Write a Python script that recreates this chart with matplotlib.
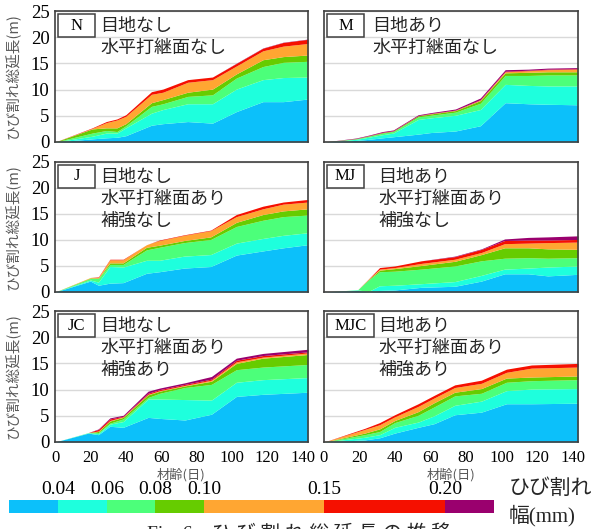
import matplotlib
matplotlib.use("Agg")
import matplotlib.pyplot as plt
from matplotlib.patches import Rectangle
import numpy as np

# crack-width classes (mm) and their colours
width_labels = ["0.04", "0.06", "0.08", "0.10", "0.15", "0.20"]
layer_colors = ["#0cc0fa", "#1effdd", "#4cff7a", "#66cc00", "#ffa632", "#f51000", "#9a006e"]

# measurement ages (days) and cumulative crack length (m) per width class
N_days = [0, 21, 29, 35, 40, 54.5, 61, 75, 89, 102.5, 117.5, 129, 143]
N_cum = [
    [0, 0.6, 0.8, 0.9, 1.2, 3.2, 3.5, 3.9, 3.6, 5.8, 7.7, 7.7, 8.2],
    [0, 1.1, 1.7, 1.7, 2.7, 5.5, 6.2, 7.3, 7.3, 10.1, 11.9, 12.3, 12.4],
    [0, 1.7, 2.2, 2.0, 3.1, 6.8, 7.3, 8.7, 9.0, 12.2, 14.4, 15.2, 15.4],
    [0, 2.5, 2.7, 2.7, 3.5, 7.5, 8.1, 9.5, 10.1, 13.0, 15.7, 16.3, 16.6],
    [0, 2.6, 3.7, 4.2, 4.9, 9.1, 9.5, 11.4, 11.9, 14.5, 17.4, 18.3, 18.8],
    [0, 2.7, 3.9, 4.4, 5.2, 9.6, 10.1, 11.9, 12.4, 15.0, 17.9, 19.0, 19.6],
    [0, 2.7, 3.9, 4.4, 5.2, 9.6, 10.1, 11.9, 12.4, 15.05, 17.95, 19.05, 19.65],
]

M_days = [0, 18, 25, 33, 39, 53, 60, 74, 88, 102, 115, 126, 143]
M_cum = [
    [0, 0.3, 0.5, 0.8, 1.0, 1.5, 1.8, 2.1, 3.1, 7.5, 7.3, 7.2, 7.1],
    [0, 0.5, 0.9, 1.4, 1.7, 4.3, 4.6, 5.1, 6.2, 11.0, 10.8, 10.7, 10.7],
    [0, 0.6, 1.1, 1.7, 2.0, 4.8, 5.1, 5.7, 7.4, 12.7, 12.7, 12.8, 12.8],
    [0, 0.65, 1.15, 1.8, 2.1, 5.0, 5.35, 6.0, 7.9, 13.2, 13.3, 13.4, 13.4],
    [0, 0.65, 1.15, 1.8, 2.1, 5.0, 5.4, 6.05, 8.0, 13.4, 13.6, 13.8, 13.9],
    [0, 0.67, 1.2, 1.85, 2.15, 5.05, 5.45, 6.1, 8.1, 13.5, 13.7, 13.9, 14.0],
    [0, 0.76, 1.3, 2.0, 2.3, 5.2, 5.6, 6.3, 8.4, 13.8, 13.9, 14.1, 14.2],
]

J_days = [0, 20, 24.5, 31, 38.5, 51.7, 59, 73, 88, 102.5, 117.5, 129, 143]
J_cum = [
    [0, 2.1, 1.3, 1.7, 1.8, 3.6, 3.9, 4.6, 4.9, 7.1, 7.9, 8.5, 9.1],
    [0, 2.3, 1.9, 4.9, 4.8, 6.1, 6.1, 6.9, 7.2, 9.4, 10.3, 10.9, 11.4],
    [0, 2.6, 2.6, 5.3, 5.3, 8.1, 8.6, 9.5, 10.1, 12.6, 13.8, 14.5, 14.8],
    [0, 2.7, 2.7, 5.6, 5.6, 8.6, 9.0, 9.9, 10.6, 13.4, 14.9, 15.6, 16.0],
    [0, 2.8, 2.8, 6.2, 6.2, 9.1, 9.9, 10.9, 11.8, 14.5, 16.0, 16.9, 17.3],
    [0, 2.8, 2.9, 6.3, 6.3, 9.1, 10.0, 11.0, 11.9, 14.9, 16.5, 17.3, 17.8],
    [0, 2.8, 2.9, 6.3, 6.3, 9.1, 10.0, 11.0, 11.9, 14.9, 16.5, 17.3, 17.8],
]

MJ_days = [0, 19, 25, 31.3, 39.8, 54.8, 73.6, 88.6, 101.7, 115, 126, 143]
MJ_cum = [
    [0, 0.3, 0.0, 0.3, 0.4, 0.9, 1.1, 2.1, 3.5, 3.5, 3.1, 3.4],
    [0, 0.4, 0.1, 1.2, 1.3, 1.6, 2.0, 3.2, 4.4, 4.6, 4.8, 5.0],
    [0, 0.45, 2.3, 3.9, 4.0, 4.4, 5.0, 6.0, 6.5, 6.6, 6.5, 6.6],
    [0, 0.45, 2.4, 4.2, 4.5, 5.1, 5.9, 7.2, 8.5, 8.5, 8.3, 8.2],
    [0, 0.45, 2.45, 4.4, 4.7, 5.5, 6.3, 7.6, 9.3, 9.4, 9.5, 9.6],
    [0, 0.45, 2.5, 4.7, 5.0, 6.0, 6.8, 8.2, 9.9, 10.0, 10.0, 10.1],
    [0, 0.45, 2.5, 4.7, 5.0, 6.0, 6.9, 8.3, 10.2, 10.5, 10.6, 10.8],
]

JC_days = [0, 18.8, 24.5, 31, 38.5, 52.6, 59.2, 73.4, 88.4, 102.5, 117.5, 143]
JC_cum = [
    [0, 1.7, 1.4, 3.0, 2.8, 4.7, 4.5, 4.2, 5.3, 8.7, 9.1, 9.5],
    [0, 1.75, 1.6, 3.4, 3.9, 8.2, 8.2, 8.1, 8.0, 11.4, 11.9, 12.3],
    [0, 1.8, 1.8, 3.6, 4.4, 8.5, 9.3, 10.4, 11.0, 13.8, 14.3, 14.8],
    [0, 1.8, 2.0, 4.0, 4.7, 9.0, 9.7, 10.7, 11.6, 15.0, 16.0, 16.7],
    [0, 1.8, 2.1, 4.1, 4.8, 9.1, 9.8, 10.8, 11.8, 15.3, 16.2, 17.0],
    [0, 1.8, 2.4, 4.4, 4.9, 9.3, 10.0, 11.0, 12.0, 15.6, 16.5, 17.2],
    [0, 1.8, 2.5, 4.6, 5.1, 9.7, 10.3, 11.3, 12.5, 16.0, 16.9, 17.7],
]

MJC_days = [0, 22.9, 31.3, 39.8, 53, 62, 73.6, 88.6, 102.7, 116.8, 143]
MJC_cum = [
    [0, 0.4, 0.8, 1.7, 2.8, 3.5, 5.2, 5.7, 7.3, 7.3, 7.4],
    [0, 0.9, 1.4, 2.8, 3.8, 5.0, 7.0, 7.8, 9.8, 10.1, 10.2],
    [0, 1.4, 2.0, 3.7, 5.1, 6.7, 8.8, 9.3, 11.4, 11.7, 11.9],
    [0, 1.7, 2.5, 4.1, 5.8, 7.5, 9.5, 10.2, 12.2, 12.4, 12.6],
    [0, 2.4, 3.3, 4.8, 6.8, 8.4, 10.4, 11.2, 13.3, 14.1, 14.3],
    [0, 2.6, 3.7, 5.2, 7.3, 8.9, 10.9, 11.8, 13.9, 14.7, 15.0],
    [0, 2.6, 3.7, 5.2, 7.3, 8.9, 10.9, 11.8, 13.9, 14.7, 15.0],
]

panels = [
    ("N", ["目地なし", "水平打継面なし"], N_days, N_cum),
    ("M", ["目地あり", "水平打継面なし"], M_days, M_cum),
    ("J", ["目地なし", "水平打継面あり", "補強なし"], J_days, J_cum),
    ("MJ", ["目地あり", "水平打継面あり", "補強なし"], MJ_days, MJ_cum),
    ("JC", ["目地なし", "水平打継面あり", "補強あり"], JC_days, JC_cum),
    ("MJC", ["目地あり", "水平打継面あり", "補強あり"], MJC_days, MJC_cum),
]

W, H = 596, 529
JP = ["Noto Sans CJK JP", "DejaVu Sans"]
SERIF = "Liberation Serif"

fig = plt.figure(figsize=(W / 100, H / 100), dpi=100)

col_x = [(55, 308), (324, 578)]
row_y = [(11, 142), (162, 292), (311, 442)]


def px_axes(x0, x1, y0, y1):
    return fig.add_axes([x0 / W, 1 - y1 / H, (x1 - x0) / W, (y1 - y0) / H])


for i, (code, lines, days, cum) in enumerate(panels):
    r, c = divmod(i, 2)
    (x0, x1), (y0, y1) = col_x[c], row_y[r]
    ax = px_axes(x0, x1, y0, y1)
    ax.set_xlim(0, 143)
    ax.set_ylim(0, 25)
    ax.set_yticks([0, 5, 10, 15, 20, 25])
    ax.set_xticks(range(0, 141, 20))
    ax.set_axisbelow(True)
    ax.yaxis.grid(True, color="#d9d9d9", lw=1)
    for s in ax.spines.values():
        s.set_color("#404040")
        s.set_linewidth(1.2)
    ax.tick_params(length=0)

    lower = np.zeros(len(days))
    for k, top in enumerate(cum):
        top = np.asarray(top, dtype=float)
        ax.fill_between(days, lower, top, color=layer_colors[k], lw=0, zorder=2)
        lower = top

    if c == 0:
        ax.tick_params(axis="y", labelsize=13.5, pad=4)
        for t in ax.get_yticklabels():
            t.set_fontfamily(SERIF)
        fig.text(13 / W, 1 - (y0 + y1) / 2 / H, "ひび割れ総延長(m)", rotation=90,
                 ha="center", va="center", fontsize=10.5, color="#595959", family=JP)
    else:
        ax.set_yticklabels([])
    if r == 2:
        ax.tick_params(axis="x", labelsize=12, pad=6)
        for t in ax.get_xticklabels():
            t.set_fontfamily(SERIF)
        fig.text((x0 + x1) / 2 / W, 1 - 475 / H, "材齢(日)", ha="center", va="center",
                 fontsize=9.5, color="#595959", family=JP)
    else:
        ax.set_xticklabels([])

    # panel code box
    bw = 47 if len(code) == 3 else 37
    bx0, by0 = x0 + 3, y0 + 3
    fig.patches.append(Rectangle((bx0 / W, 1 - (by0 + 23) / H), bw / W, 23 / H,
                                 transform=fig.transFigure, fill=True, fc="white",
                                 ec="#404040", lw=1.1, zorder=5))
    fig.text((bx0 + bw / 2) / W, 1 - (by0 + 11.5) / H, code, ha="center", va="center",
             fontsize=12, family=SERIF, zorder=6)

    tx = x0 + (45 if c == 0 else (48 if len(lines) == 2 else 54))
    for j, line in enumerate(lines):
        fig.text(tx / W, 1 - (y0 + 15 + 22 * j) / H, line, ha="left", va="center",
                 fontsize=13, color="#262626", family=JP)

# colour key for the crack-width classes
edges = [9, 58, 107, 155, 204, 324, 445, 494]
lax = px_axes(edges[0], edges[-1], 500, 513)
lax.set_xlim(edges[0], edges[-1])
lax.set_ylim(0, 1)
lax.axis("off")
for k in range(len(layer_colors)):
    lax.add_patch(Rectangle((edges[k], 0), edges[k + 1] - edges[k], 1,
                            color=layer_colors[k], lw=0))
for k, lab in enumerate(width_labels):
    fig.text(edges[k + 1] / W, 1 - 490 / H, lab, ha="center", va="center",
             fontsize=14, family=SERIF)
fig.text(509 / W, 1 - 488 / H, "ひび割れ", ha="left", va="center", fontsize=15, family=JP,
         color="#262626")
fig.text(509 / W, 1 - 516 / H, "幅(mm)", ha="left", va="center", fontsize=15,
         family=[SERIF, "Noto Sans CJK JP"], color="#262626")

fig.text(147 / W, 1 - 522 / H, "Fig. 6　ひ び 割 れ 総 延 長 の 推 移", ha="left", va="top",
         fontsize=14, family=[SERIF, "Noto Sans CJK JP"], color="#262626")

fig.savefig("out.png", dpi=100)
